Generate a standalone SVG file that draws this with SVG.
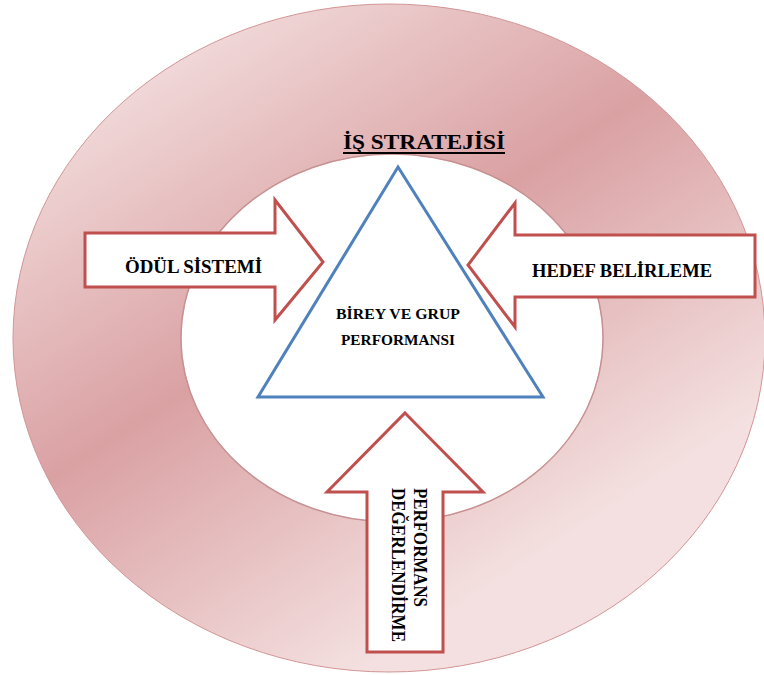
<svg xmlns="http://www.w3.org/2000/svg" width="764" height="675" viewBox="0 0 764 675">
<defs>
<linearGradient id="ringGrad" gradientUnits="userSpaceOnUse" x1="54" y1="84" x2="411" y2="638">
<stop offset="0" stop-color="#f4e0e0"/>
<stop offset="0.5" stop-color="#daa1a3"/>
<stop offset="1" stop-color="#f4e0e0"/>
</linearGradient>
<style>
.lbl{font-family:"Liberation Serif","Times New Roman",serif;font-weight:bold;fill:#000;}
.arrow{fill:#fff;stroke:#c0504d;stroke-width:3;stroke-linejoin:miter;}
.tri{fill:none;stroke:#4f81bd;stroke-width:3;stroke-linejoin:miter;}
</style>
</defs>
<rect width="764" height="675" fill="#fff"/>
<g id="ring">
<path fill="url(#ringGrad)" fill-rule="evenodd" stroke="#d39596" stroke-width="1" d="M13,338 a376,334 0 1,0 752,0 a376,334 0 1,0 -752,0 Z M181,338 a211,184 0 1,0 422,0 a211,184 0 1,0 -422,0 Z"/>
<ellipse cx="392" cy="338" rx="211" ry="184" fill="none" stroke="#c08a8c" stroke-width="1.5" opacity="0.7"/>
</g>
<g id="title">
<text class="lbl" x="343" y="149" font-size="22" textLength="162" lengthAdjust="spacingAndGlyphs">İŞ STRATEJİSİ</text>
<rect x="343" y="152" width="162" height="2" fill="#000"/>
</g>
<g id="connectors"></g>
<g id="triangle">
<polygon class="tri" points="398,167 543,397 258,397"/>
<text class="lbl" x="398" y="319" font-size="15" text-anchor="middle" textLength="124" lengthAdjust="spacingAndGlyphs">BİREY VE GRUP</text>
<text class="lbl" x="398" y="345" font-size="15" text-anchor="middle" textLength="114" lengthAdjust="spacingAndGlyphs">PERFORMANSI</text>
</g>
<g id="odul-sistemi">
<polygon class="arrow" points="85,233 275,233 275,200 323,262 275,320 275,287 85,287"/>
<text class="lbl" x="125" y="273" font-size="18" textLength="137" lengthAdjust="spacingAndGlyphs">ÖDÜL  SİSTEMİ</text>
</g>
<g id="hedef-belirleme">
<polygon class="arrow" points="755,235 515,235 515,203 468,265 515,327 515,297 755,297"/>
<text class="lbl" x="532" y="277" font-size="18" textLength="180" lengthAdjust="spacingAndGlyphs">HEDEF BELİRLEME</text>
</g>
<g id="performans-degerlendirme">
<polygon class="arrow" points="405,413 483,492 443,492 443,652 367,652 367,492 327,492"/>
<text class="lbl" font-size="18" transform="translate(413.5,488) rotate(90)" textLength="119" lengthAdjust="spacingAndGlyphs">PERFORMANS</text>
<text class="lbl" font-size="18" transform="translate(392,488) rotate(90)" textLength="154" lengthAdjust="spacingAndGlyphs">DEĞERLENDİRME</text>
</g>
</svg>
